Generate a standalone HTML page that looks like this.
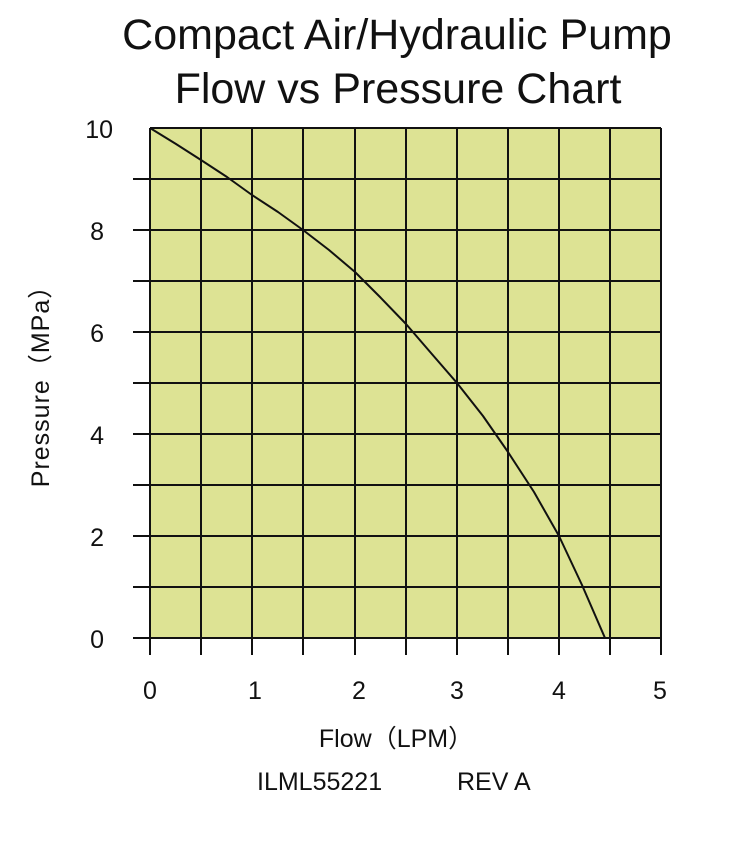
<!DOCTYPE html><html><head><style>body{margin:0;background:#fff}svg{display:block}text{font-family:"Liberation Sans",sans-serif;fill:#111}</style></head><body>
<svg width="753" height="844" xmlns="http://www.w3.org/2000/svg">
<text x="397" y="49" font-size="43" text-anchor="middle">Compact Air/Hydraulic Pump</text>
<text x="398" y="103" font-size="43" text-anchor="middle">Flow vs Pressure Chart</text>
<rect x="150" y="128" width="511" height="510" fill="#dde394"/>
<g stroke="#111" stroke-width="2">
<line x1="150" y1="128" x2="661" y2="128"/>
<line x1="133" y1="179" x2="661" y2="179"/>
<line x1="133" y1="230" x2="661" y2="230"/>
<line x1="133" y1="281" x2="661" y2="281"/>
<line x1="133" y1="332" x2="661" y2="332"/>
<line x1="133" y1="383" x2="661" y2="383"/>
<line x1="133" y1="434" x2="661" y2="434"/>
<line x1="133" y1="485" x2="661" y2="485"/>
<line x1="133" y1="536" x2="661" y2="536"/>
<line x1="133" y1="587" x2="661" y2="587"/>
<line x1="133" y1="638" x2="661" y2="638"/>
<line x1="150" y1="128" x2="150" y2="655"/>
<line x1="201" y1="128" x2="201" y2="655"/>
<line x1="252" y1="128" x2="252" y2="655"/>
<line x1="303" y1="128" x2="303" y2="655"/>
<line x1="355" y1="128" x2="355" y2="655"/>
<line x1="406" y1="128" x2="406" y2="655"/>
<line x1="457" y1="128" x2="457" y2="655"/>
<line x1="508" y1="128" x2="508" y2="655"/>
<line x1="559" y1="128" x2="559" y2="655"/>
<line x1="610" y1="128" x2="610" y2="655"/>
<line x1="661" y1="128" x2="661" y2="655"/>
</g>
<polyline points="150,128 176,144 201,160 227,177 252,195 278,212 303,230 329,250 355,272 380,297 406,324 431,353 457,383 483,416 508,452 534,492 559,536 582,585 605,638" fill="none" stroke="#111" stroke-width="2" stroke-linejoin="round"/>
<g font-size="25" text-anchor="end">
<text x="113" y="138">10</text><text x="104" y="240">8</text><text x="104" y="342">6</text><text x="104" y="444">4</text><text x="104" y="546">2</text><text x="104" y="648">0</text>
</g>
<g font-size="25" text-anchor="middle">
<text x="150" y="699">0</text><text x="255" y="699">1</text><text x="359" y="699">2</text><text x="457" y="699">3</text><text x="559" y="699">4</text><text x="660" y="699">5</text>
</g>
<text x="396" y="747" font-size="25" text-anchor="middle">Flow（LPM）</text>
<text x="257" y="790" font-size="25">ILML55221</text>
<text x="457" y="790" font-size="25">REV A</text>
<text transform="translate(49,380) rotate(-90)" font-size="25" text-anchor="middle" letter-spacing="1">Pressure（MPa）</text>
</svg></body></html>
